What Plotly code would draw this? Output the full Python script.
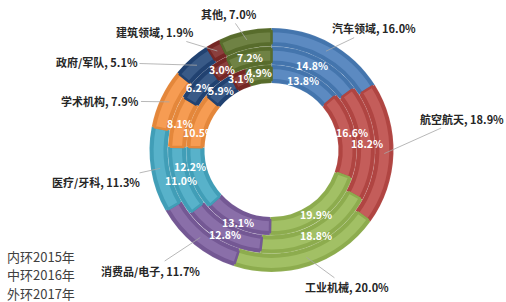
import math
import plotly.graph_objects as go

# ---------------- data ----------------
categories = ["汽车领域", "航空航天", "工业机械", "消费品/电子", "医疗/牙科",
              "学术机构", "政府/军队", "建筑领域", "其他"]
share_2015 = [13.8, 16.6, 19.9, 13.1, 12.2, 10.5, 5.9, 3.1, 4.9]   # inner ring
share_2016 = [14.8, 18.2, 18.8, 12.8, 11.0, 8.1, 6.2, 3.0, 7.2]    # middle ring
share_2017 = [16.0, 18.9, 20.0, 11.7, 11.3, 7.9, 5.1, 1.9, 7.0]    # outer ring
ring_notes = ["内环2015年", "中环2016年", "外环2017年"]

# ---------------- style ----------------
colors = ["#4a7ebb", "#be4b48", "#98b954", "#7d5fa0", "#46aac5",
          "#f69240", "#24487a", "#7f2a28", "#5f7530"]
# pixel offsets of the outer (2017) labels from their leader-line anchor
label_offsets = [(48, -23), (78, -35), (41, 30), (-50, 33), (-64, 14),
                 (-69, -1), (-100, -3), (-62, -19), (-18, -26)]
# small pixel nudges (dx, dy down) of the ring labels, as placed in the original
nudge_inner = [(0, 0), (6, -4), (1, 2), (-2, 3), (-10, -9), (-1, 10), (-2, -1), (0, -2), (-1, -2)]
nudge_middle = [(-2, 0), (1, 0), (1, 2), (0, 2), (-1, 1), (-1, 0), (-2, 1), (0, 0), (0, 0)]

W, H = 506, 302
CX, CY = 271.5, 150.0          # pie centre in px (from top-left)
R_HOLE, R_OUT = 67.0, 122.0
step = (R_OUT - R_HOLE) / 3.0
ring_edges = [R_HOLE + i * step for i in range(4)]
FONT = "Noto Sans CJK SC"


def lighten(hx, f):
    hx = hx.lstrip("#")
    r, g, b = (int(hx[i:i + 2], 16) for i in (0, 2, 4))
    r, g, b = (int(c + (255 - c) * f) for c in (r, g, b))
    return f"#{r:02x}{g:02x}{b:02x}"


def darken(hx, f):
    hx = hx.lstrip("#")
    r, g, b = (int(hx[i:i + 2], 16) for i in (0, 2, 4))
    r, g, b = (int(c * (1 - f)) for c in (r, g, b))
    return f"#{r:02x}{g:02x}{b:02x}"


def domain(r):
    return dict(x=[(CX - r) / W, (CX + r) / W],
                y=[(H - CY - r) / H, (H - CY + r) / H])


def mid_angles(vals):
    tot = sum(vals)
    out, cum = [], 0.0
    for v in vals:
        out.append((cum + v / 2.0) / tot * 2 * math.pi)
        cum += v
    return out


def to_paper(r, ang):
    x = CX + r * math.sin(ang)
    y = CY - r * math.cos(ang)
    return x / W, (H - y) / H


fig = go.Figure()
rings = [share_2015, share_2016, share_2017]
light = [lighten(c, 0.10) for c in colors]
edge = [darken(c, 0.07) for c in colors]

for i, vals in enumerate(rings):
    r_in, r_out = ring_edges[i], ring_edges[i + 1]
    fig.add_trace(go.Pie(
        labels=categories, values=vals, sort=False, direction="clockwise",
        rotation=0, hole=r_in / r_out, domain=domain(r_out),
        marker=dict(colors=edge, line=dict(color="rgba(255,255,255,0.12)", width=0.6)),
        textinfo="none", hoverinfo="skip", showlegend=False))
    ri, ro = r_in + 3.0, r_out - 3.0
    fig.add_trace(go.Pie(
        labels=categories, values=vals, sort=False, direction="clockwise",
        rotation=0, hole=ri / ro, domain=domain(ro),
        marker=dict(colors=light, line=dict(color=edge, width=2.5)),
        textinfo="none", hoverinfo="skip", showlegend=False))

annotations = []
# white percentage labels on the inner and middle rings
for i, (vals, nudges) in enumerate(zip(rings[:2], [nudge_inner, nudge_middle])):
    rm = (ring_edges[i] + ring_edges[i + 1]) / 2.0
    for v, a, (dx, dy) in zip(vals, mid_angles(vals), nudges):
        x, y = to_paper(rm, a)
        annotations.append(dict(
            x=x, y=y, xref="paper", yref="paper", showarrow=False,
            xanchor="center", yanchor="middle", xshift=dx, yshift=-dy,
            text=f"<b>{v:.1f}%</b>", font=dict(family=FONT, size=10.5, color="white")))

# outer labels with leader lines
r_anchor = (ring_edges[2] + ring_edges[3]) / 2.0
for name, v, a, (ax, ay) in zip(categories, share_2017, mid_angles(share_2017), label_offsets):
    x, y = to_paper(r_anchor, a)
    annotations.append(dict(
        x=x, y=y, xref="paper", yref="paper", showarrow=True, arrowhead=0,
        arrowwidth=0.8, arrowcolor="#a6a6a6", ax=ax, ay=ay, standoff=0,
        xanchor="center", yanchor="middle",
        text=f"<b>{name}, {v:.1f}%</b>",
        font=dict(family=FONT, size=11, color="#262626")))

# ring notes bottom-left
for k, t in enumerate(ring_notes):
    annotations.append(dict(
        x=5 / W, y=(H - (256 + 18.5 * k)) / H, xref="paper", yref="paper",
        xanchor="left", yanchor="middle", showarrow=False, text=t,
        font=dict(family=FONT, size=13, color="#404040")))

fig.update_layout(
    width=W, height=H, margin=dict(l=0, r=0, t=0, b=0),
    paper_bgcolor="white", plot_bgcolor="white",
    annotations=annotations, hovermode=False)

fig.write_html("out.html")
